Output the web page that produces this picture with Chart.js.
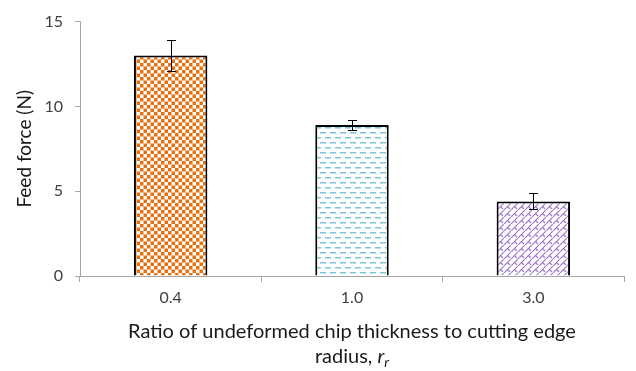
<!DOCTYPE html>
<html>
<head>
<meta charset="utf-8">
<script src="https://cdn.jsdelivr.net/npm/chart.js@4/dist/chart.umd.min.js"></script>
<style>
  html, body { margin: 0; padding: 0; background: #fff; }
  #wrap { width: 636px; height: 371px; }
</style>
</head>
<body>
<div id="wrap"><canvas id="c" width="636" height="371"></canvas></div>
<script>
// Feed force against the ratio of undeformed chip thickness to cutting edge radius
const categories = ['0.4', '1.0', '3.0'];
const feedForce = [13.0, 8.9, 4.4];
const feedForceError = [0.93, 0.27, 0.47];
const yTicks = [0, 5, 10, 15];

const FONT = 'Lato, "Open Sans", sans-serif';

// Fill patterns for the three bars
function makeTile(w, h, draw) {
  const c = document.createElement('canvas');
  c.width = w; c.height = h;
  const g = c.getContext('2d');
  g.fillStyle = '#ffffff';
  g.fillRect(0, 0, w, h);
  draw(g);
  return c;
}
const ctx0 = document.getElementById('c').getContext('2d');

const checkerTile = makeTile(7, 7, g => {
  g.fillStyle = '#E8700F';
  g.fillRect(0, 0, 3.5, 3.5);
  g.fillRect(3.5, 3.5, 3.5, 3.5);
});
const dashTile = makeTile(10, 10, g => {
  g.fillStyle = '#7CC6DC';
  g.fillRect(0, 2, 6, 1.5);
  g.fillRect(5, 7, 6, 1.5);
  g.fillRect(-5, 7, 6, 1.5);
});
const brickTile = makeTile(7, 7, g => {
  g.strokeStyle = '#9E78CC';
  g.lineWidth = 1.2;
  g.beginPath();
  g.moveTo(-1, 8); g.lineTo(8, -1);
  g.moveTo(3.5, 3.5); g.lineTo(6, 6);
  g.stroke();
});
const patterns = [
  ctx0.createPattern(checkerTile, 'repeat'),
  ctx0.createPattern(dashTile, 'repeat'),
  ctx0.createPattern(brickTile, 'repeat')
];

// Error bars drawn from the value arrays through the y scale
const errorBars = {
  id: 'errorBars',
  afterDatasetsDraw(chart) {
    const g = chart.ctx;
    const y = chart.scales.y;
    const meta = chart.getDatasetMeta(0);
    g.save();
    g.strokeStyle = '#000';
    g.lineWidth = 1;
    meta.data.forEach((bar, i) => {
      const x = Math.round(bar.x) + 0.5;
      const top = Math.round(y.getPixelForValue(feedForce[i] + feedForceError[i])) + 0.5;
      const bot = Math.round(y.getPixelForValue(feedForce[i] - feedForceError[i])) + 0.5;
      g.beginPath();
      g.moveTo(x, top); g.lineTo(x, bot);
      g.moveTo(x - 4.5, top); g.lineTo(x + 4.5, top);
      g.moveTo(x - 4.5, bot); g.lineTo(x + 4.5, bot);
      g.stroke();
    });
    g.restore();
  }
};

// Two-line x axis title with italic r and subscript r
const xTitle = {
  id: 'xTitle',
  afterDraw(chart) {
    const g = chart.ctx;
    const a = chart.chartArea;
    const cx = (a.left + a.right) / 2;
    g.save();
    g.fillStyle = '#1a1a1a';
    g.textBaseline = 'alphabetic';
    g.font = '20px ' + FONT;
    g.textAlign = 'center';
    g.fillText('Ratio of undeformed chip thickness to cutting edge', cx, 338);
    const part1 = 'radius, ';
    const w1 = g.measureText(part1).width;
    g.font = 'italic 20px ' + FONT;
    const w2 = g.measureText('r').width;
    g.font = 'italic 14px ' + FONT;
    const w3 = g.measureText('r').width;
    let x = cx - (w1 + w2 + w3) / 2;
    g.textAlign = 'left';
    g.font = '20px ' + FONT;
    g.fillText(part1, x, 363);
    x += w1;
    g.font = 'italic 20px ' + FONT;
    g.fillText('r', x, 363);
    x += w2;
    g.font = 'italic 14px ' + FONT;
    g.fillText('r', x, 367);
    g.restore();
  }
};

new Chart(document.getElementById('c'), {
  type: 'bar',
  data: {
    labels: categories,
    datasets: [{
      data: feedForce,
      backgroundColor: patterns,
      borderColor: '#000000',
      borderWidth: 2,
      borderSkipped: 'bottom',
      categoryPercentage: 1.0,
      barPercentage: 0.405
    }]
  },
  options: {
    responsive: false,
    animation: false,
    layout: { padding: { top: 16, right: 12, bottom: 0, left: 0 } },
    plugins: { legend: { display: false }, tooltip: { enabled: false } },
    scales: {
      x: {
        afterFit(s) { s.height = 95; },
        grid: {
          offset: true,
          drawOnChartArea: false,
          drawTicks: true,
          tickLength: 6,
          color: '#A6A6A6'
        },
        border: { color: '#A6A6A6', width: 1 },
        ticks: { color: '#404040', font: { family: FONT, size: 16 }, padding: 6 }
      },
      y: {
        min: 0, max: 15,
        afterFit(s) { s.width = 80; },
        afterBuildTicks(s) { s.ticks = yTicks.map(v => ({ value: v })); },
        grid: {
          drawOnChartArea: false,
          drawTicks: true,
          tickLength: 5,
          color: '#A6A6A6'
        },
        border: { color: '#A6A6A6', width: 1 },
        ticks: { color: '#404040', font: { family: FONT, size: 16 }, padding: 12 },
        title: {
          display: true,
          text: 'Feed force (N)',
          color: '#1a1a1a',
          font: { family: FONT, size: 19 },
          padding: { top: 13, bottom: 4 }
        }
      }
    }
  },
  plugins: [errorBars, xTitle]
});
</script>
</body>
</html>
